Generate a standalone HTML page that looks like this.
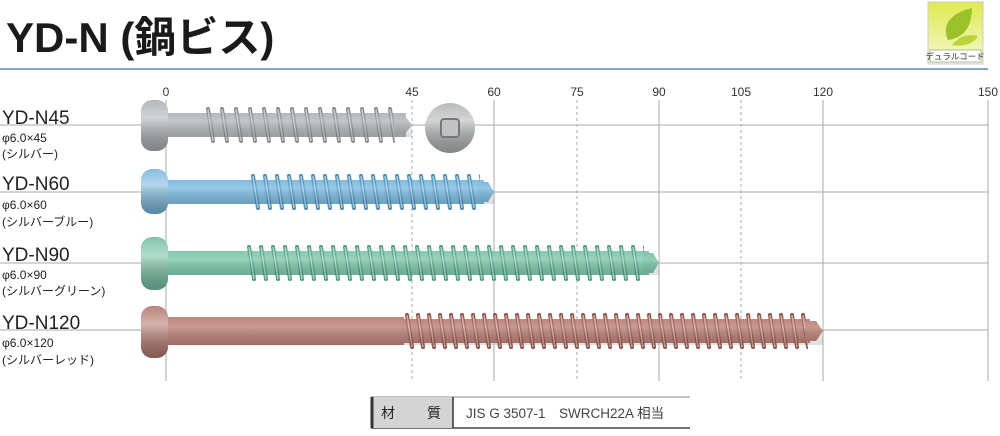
<!DOCTYPE html>
<html><head><meta charset="utf-8"><style>
body{margin:0;background:#fff;width:1000px;height:431px;overflow:hidden;font-family:"Liberation Sans","Noto Sans CJK JP",sans-serif;}
</style></head><body>
<svg width="1000" height="431" viewBox="0 0 1000 431" xmlns="http://www.w3.org/2000/svg" font-family="Liberation Sans, Noto Sans CJK JP, sans-serif">
<defs>
<pattern id="tg" x="205" y="107" width="14" height="36" patternUnits="userSpaceOnUse"><line x1="3" y1="2" x2="8" y2="34" stroke="#888b8e" stroke-width="4" stroke-linecap="round"/><line x1="3" y1="2" x2="8" y2="34" stroke="#c4c6c8" stroke-width="1.5"/></pattern>
<pattern id="tb" x="250" y="174" width="12" height="36" patternUnits="userSpaceOnUse"><line x1="3" y1="2" x2="8" y2="34" stroke="#4a8cb8" stroke-width="4" stroke-linecap="round"/><line x1="3" y1="2" x2="8" y2="34" stroke="#9fd0ee" stroke-width="1.5"/></pattern>
<pattern id="tn" x="246" y="245" width="12" height="36" patternUnits="userSpaceOnUse"><line x1="3" y1="2" x2="8" y2="34" stroke="#4f9a80" stroke-width="4" stroke-linecap="round"/><line x1="3" y1="2" x2="8" y2="34" stroke="#a0dcc4" stroke-width="1.5"/></pattern>
<pattern id="tr" x="404" y="313" width="11" height="36" patternUnits="userSpaceOnUse"><line x1="3" y1="2" x2="8" y2="34" stroke="#8e5248" stroke-width="4" stroke-linecap="round"/><line x1="3" y1="2" x2="8" y2="34" stroke="#d6a49a" stroke-width="1.5"/></pattern>
<linearGradient id="sh" x1="0" y1="0" x2="0" y2="1">
<stop offset="0" stop-color="#fff" stop-opacity="0.1"/><stop offset="0.35" stop-color="#fff" stop-opacity="0.45"/><stop offset="1" stop-color="#000" stop-opacity="0.25"/>
</linearGradient>
<linearGradient id="lg" x1="0" y1="0" x2="0" y2="1"><stop offset="0" stop-color="#e0ea50"/><stop offset="1" stop-color="#f4f7d0"/></linearGradient>
</defs>
<text x="6" y="52" font-size="42" font-weight="bold" fill="#1a1a1a">YD-N (鍋ビス)</text>
<line x1="0" y1="69" x2="988" y2="69" stroke="#88a6c6" stroke-width="2"/>
<rect x="928" y="2" width="55" height="62" fill="url(#lg)" stroke="#ccc"/>
<path d="M948 40 C940 22 955 12 972 8 C972 25 965 38 948 40Z" fill="#9cc22a"/>
<path d="M952 45 C960 35 970 34 978 36 C974 44 962 47 952 45Z" fill="#b8d43a"/>
<rect x="930" y="50" width="51" height="12" fill="#fff" stroke="#8a8" stroke-width="0.7"/>
<text x="955" y="59.5" font-size="8.5" text-anchor="middle" fill="#333">デュラルコード</text>
<g font-size="12" fill="#333" text-anchor="middle">
<text x="166" y="96">0</text><text x="412" y="96">45</text><text x="494" y="96">60</text><text x="577" y="96">75</text><text x="659" y="96">90</text><text x="741" y="96">105</text><text x="823" y="96">120</text><text x="988" y="96">150</text>
</g>
<g stroke="#aaa" stroke-width="1">
<line x1="166" y1="100" x2="166" y2="381"/>
<line x1="494" y1="100" x2="494" y2="381"/>
<line x1="659" y1="100" x2="659" y2="381"/>
<line x1="823" y1="100" x2="823" y2="381"/>
<line x1="988" y1="100" x2="988" y2="381"/>
<g stroke-dasharray="3,3"><line x1="412" y1="100" x2="412" y2="381"/><line x1="577" y1="100" x2="577" y2="381"/><line x1="741" y1="100" x2="741" y2="381"/></g>
<line x1="0" y1="125" x2="988" y2="125"/><line x1="0" y1="192" x2="988" y2="192"/><line x1="0" y1="263" x2="988" y2="263"/><line x1="0" y1="330" x2="988" y2="330"/>
</g>
<g fill="#222">
<text x="2" y="124" font-size="19">YD-N45</text><text x="2" y="142" font-size="12">φ6.0×45</text><text x="2" y="158" font-size="12">(シルバー)</text>
<text x="2" y="190" font-size="19">YD-N60</text><text x="2" y="209" font-size="12">φ6.0×60</text><text x="2" y="226" font-size="12">(シルバーブルー)</text>
<text x="2" y="261" font-size="19">YD-N90</text><text x="2" y="279" font-size="12">φ6.0×90</text><text x="2" y="295" font-size="12">(シルバーグリーン)</text>
<text x="2" y="329" font-size="19">YD-N120</text><text x="2" y="347" font-size="12">φ6.0×120</text><text x="2" y="364" font-size="12">(シルバーレッド)</text>
</g>
<!-- N45 -->
<g>
<rect x="164" y="113" width="242" height="24" fill="#b2b5b8"/>
<rect x="205" y="107" width="190" height="36" fill="url(#tg)"/>
<path d="M394 115 L404 115 L412 125 L404 135 L394 135Z" fill="#aeb1b4"/>
<rect x="164" y="113" width="248" height="24" fill="url(#sh)" opacity="0.5"/>
<rect x="141" y="100" width="27" height="51" rx="11" fill="#adb0b3"/>
<rect x="141" y="100" width="27" height="51" rx="11" fill="url(#sh)"/>
<circle cx="450" cy="128" r="25" fill="#b0b3b5"/>
<circle cx="450" cy="128" r="25" fill="url(#sh)"/>
<rect x="441" y="119" width="18" height="18" rx="3" fill="#c0c2c4" stroke="#777" stroke-width="2"/>
</g>
<!-- N60 -->
<g>
<rect x="164" y="180" width="320" height="24" fill="#7ab8de"/>
<rect x="250" y="174" width="230" height="36" fill="url(#tb)"/>
<path d="M478 182 L488 182 L494 192 L488 202 L478 202Z" fill="#74b4da"/>
<rect x="164" y="180" width="330" height="24" fill="url(#sh)" opacity="0.5"/>
<rect x="141" y="169" width="27" height="45" rx="11" fill="#78b6dc"/>
<rect x="141" y="169" width="27" height="45" rx="11" fill="url(#sh)"/>
</g>
<!-- N90 -->
<g>
<rect x="164" y="251" width="485" height="24" fill="#7cc6aa"/>
<rect x="246" y="245" width="398" height="36" fill="url(#tn)"/>
<path d="M643 253 L653 253 L659 263 L653 273 L643 273Z" fill="#74c0a4"/>
<rect x="164" y="251" width="495" height="24" fill="url(#sh)" opacity="0.5"/>
<rect x="141" y="237" width="27" height="53" rx="11" fill="#74bea2"/>
<rect x="141" y="237" width="27" height="53" rx="11" fill="url(#sh)"/>
</g>
<!-- N120 -->
<g>
<rect x="164" y="317" width="240" height="28" fill="#ba7e74"/>
<rect x="400" y="319" width="410" height="24" fill="#b87c70"/>
<rect x="404" y="313" width="404" height="36" fill="url(#tr)"/>
<path d="M805 321 L816 321 L823 331 L816 341 L805 341Z" fill="#b87c70"/>
<rect x="164" y="317" width="659" height="28" fill="url(#sh)" opacity="0.5"/>
<rect x="141" y="306" width="27" height="52" rx="11" fill="#b4766c"/>
<rect x="141" y="306" width="27" height="52" rx="11" fill="url(#sh)"/>
</g>
<!-- table -->
<line x1="371" y1="397" x2="690" y2="397" stroke="#888" stroke-width="1"/>
<line x1="371" y1="428" x2="690" y2="428" stroke="#444" stroke-width="1.5"/>
<rect x="371" y="397" width="82" height="31" fill="#d4d4d4"/>
<line x1="372" y1="397" x2="372" y2="428" stroke="#333" stroke-width="3"/>
<line x1="453" y1="397" x2="453" y2="428" stroke="#333" stroke-width="1.5"/>
<text x="381" y="418" font-size="14" fill="#222">材</text>
<text x="427" y="418" font-size="14" fill="#222">質</text>
<text x="466" y="418" font-size="13.5" fill="#444">JIS G 3507-1　SWRCH22A 相当</text>
</svg>
</body></html>
